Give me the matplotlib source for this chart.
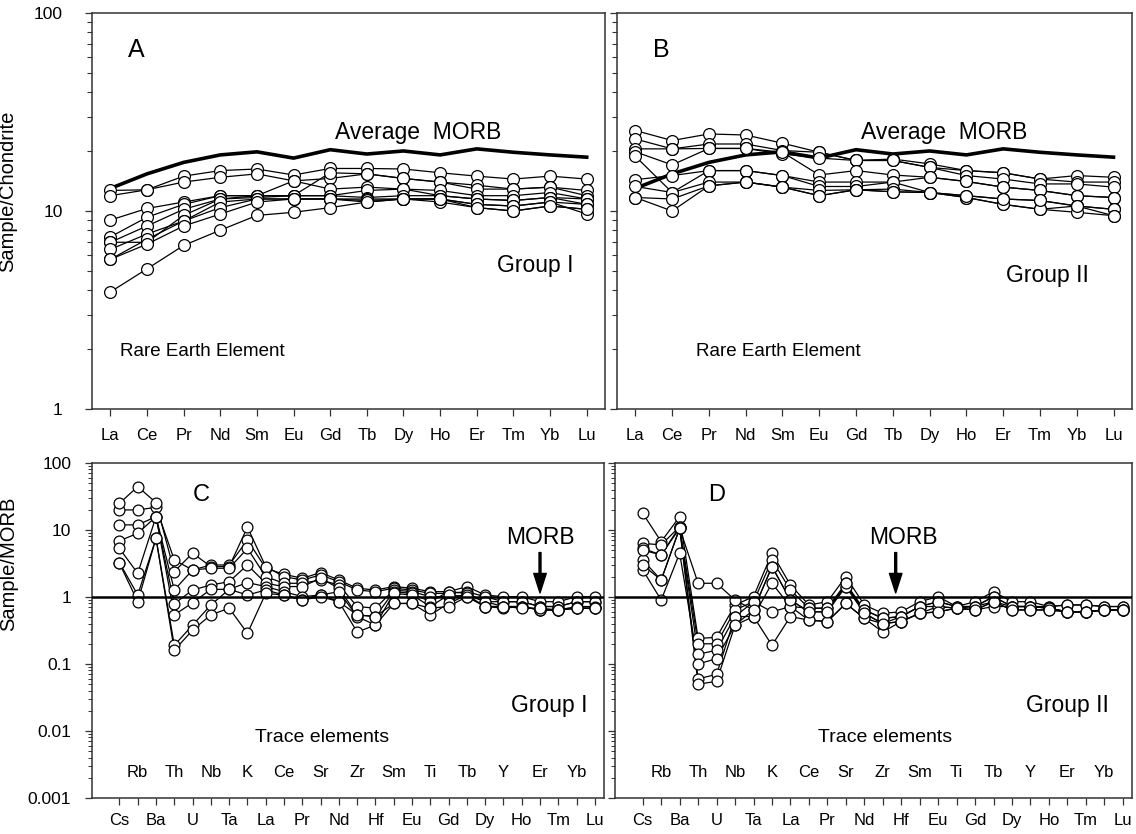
import matplotlib.pyplot as plt
import matplotlib.transforms as mtransforms
from matplotlib.ticker import FixedLocator, LogLocator, NullFormatter

plt.rcParams['font.family'] = ['Liberation Sans', 'DejaVu Sans']

# rare earth elements, chondrite normalised
ree = ['La', 'Ce', 'Pr', 'Nd', 'Sm', 'Eu', 'Gd', 'Tb', 'Dy', 'Ho', 'Er', 'Tm', 'Yb', 'Lu']
morb_ree = [13.0, 15.4, 17.6, 19.2, 19.9, 18.5, 20.4, 19.4, 20.1, 19.2, 20.6, 19.8, 19.2, 18.7]

group1_ree = [
    [12.7, 12.8, 15.0, 16.0, 16.3, 15.2, 16.4, 16.4, 16.3, 15.6, 15.0, 14.5, 15.0, 14.5],
    [11.95, 12.8, 14.0, 14.8, 15.4, 14.2, 14.6, 15.4, 14.6, 14.0, 13.5, 12.9, 13.2, 12.7],
    [9.0, 10.3, 11.1, 11.95, 11.95, 11.95, 15.6, 15.4, 14.6, 14.0, 12.9, 12.9, 13.2, 11.95],
    [7.4, 9.3, 10.8, 11.95, 11.95, 14.2, 12.9, 13.2, 12.9, 12.7, 11.95, 11.95, 12.4, 11.5],
    [6.95, 8.4, 10.2, 11.5, 11.7, 11.95, 11.95, 12.7, 12.9, 11.95, 11.5, 11.3, 11.7, 11.5],
    [6.95, 6.95, 9.5, 11.5, 11.95, 11.95, 11.95, 11.7, 11.95, 11.95, 11.5, 11.3, 11.7, 10.8],
    [6.4, 7.65, 8.9, 11.1, 11.5, 11.5, 11.5, 11.5, 11.5, 11.5, 10.8, 10.6, 11.1, 10.8],
    [5.7, 7.2, 8.9, 10.4, 11.5, 11.5, 11.5, 11.1, 11.5, 11.1, 10.4, 10.0, 10.6, 10.2],
    [5.7, 6.8, 8.4, 9.65, 11.1, 11.5, 11.5, 11.3, 11.5, 11.5, 10.8, 10.6, 11.1, 9.65],
    [3.9, 5.1, 6.7, 8.0, 9.5, 9.85, 10.4, 11.1, 11.5, 11.5, 10.4, 10.0, 10.6, 10.2],
]

group2_ree = [
    [25.5, 22.7, 24.5, 24.2, 22.0, 19.8, 18.0, 18.3, 17.3, 16.0, 15.6, 14.5, 15.1, 14.8],
    [23.1, 20.6, 21.8, 21.8, 20.2, 19.8, 18.0, 18.0, 16.6, 16.0, 15.6, 14.5, 14.0, 14.0],
    [20.6, 20.6, 20.7, 20.7, 19.4, 18.5, 18.0, 18.0, 16.6, 15.1, 14.5, 13.7, 13.7, 13.2],
    [19.9, 17.1, 20.7, 20.7, 19.8, 15.2, 16.0, 15.2, 14.8, 14.1, 13.2, 12.7, 11.95, 11.7],
    [18.9, 12.4, 16.0, 16.0, 15.1, 14.0, 14.0, 14.0, 14.8, 14.1, 13.2, 12.7, 11.95, 11.7],
    [14.4, 15.1, 16.0, 16.0, 15.1, 13.3, 13.3, 14.0, 12.4, 11.95, 11.5, 11.3, 10.6, 10.2],
    [13.3, 12.4, 14.0, 14.0, 13.2, 12.7, 12.8, 12.9, 12.4, 11.7, 10.8, 10.2, 10.6, 10.2],
    [11.7, 11.5, 13.4, 14.0, 13.2, 11.95, 12.8, 12.5, 12.4, 11.7, 10.8, 10.2, 9.85, 9.47],
    [11.7, 10.0, 13.4, 14.0, 13.2, 11.95, 12.8, 12.5, 12.4, 11.95, 11.5, 11.3, 10.6, 9.47],
]

# trace elements, MORB normalised
trace = ['Cs', 'Rb', 'Ba', 'Th', 'U', 'Nb', 'Ta', 'K', 'La', 'Ce', 'Pr', 'Sr', 'Nd', 'Zr',
         'Hf', 'Sm', 'Eu', 'Ti', 'Gd', 'Tb', 'Dy', 'Y', 'Ho', 'Er', 'Tm', 'Yb', 'Lu']

group1_trace = [
    [19.9, 19.9, 21.8, 3.56, 2.53, 3.0, 3.0, 7.1, 2.68, 2.18, 1.9, 2.31, 1.79, 1.35, 1.27,
     1.43, 1.35, 1.2, 1.2, 1.43, 1.07, 1.01, 1.01, 0.85, 0.85, 1.01, 1.01],
    [25.0, 44.3, 25.6, 2.39, 4.5, 2.84, 2.84, 11.0, 2.84, 2.01, 1.79, 2.13, 1.69, 1.27, 1.2,
     1.35, 1.27, 1.13, 1.13, 1.2, 1.01, 0.85, 0.85, 0.72, 0.72, 0.85, 0.85],
    [11.9, 11.9, 15.8, 1.27, 2.53, 2.68, 2.68, 5.3, 2.01, 1.6, 1.6, 1.79, 1.51, 0.72, 0.68,
     1.27, 1.2, 1.01, 1.01, 1.07, 0.85, 0.85, 0.85, 0.72, 0.72, 0.85, 0.85],
    [6.9, 8.9, 15.8, 0.79, 1.27, 1.51, 1.69, 3.0, 1.6, 1.43, 1.43, 1.9, 1.35, 0.54, 0.51,
     1.2, 1.13, 0.85, 1.2, 1.13, 0.85, 0.72, 0.72, 0.64, 0.64, 0.72, 0.72],
    [5.3, 2.25, 15.8, 0.54, 0.82, 1.3, 1.3, 1.64, 1.43, 1.2, 1.01, 1.07, 1.2, 0.51, 0.38,
     1.13, 1.07, 0.72, 1.07, 1.01, 0.72, 0.72, 0.72, 0.64, 0.64, 0.68, 0.68],
    [3.25, 1.07, 7.5, 0.19, 0.38, 0.76, 1.3, 1.07, 1.27, 1.07, 0.9, 1.07, 0.85, 0.3, 0.38,
     0.8, 0.8, 0.54, 0.8, 1.07, 0.72, 0.68, 0.72, 0.64, 0.64, 0.68, 0.68],
    [3.18, 0.85, 7.5, 0.16, 0.32, 0.54, 0.68, 0.287, 1.13, 1.07, 0.9, 1.01, 0.85, 0.54, 0.51,
     0.8, 0.8, 0.68, 0.72, 1.01, 0.72, 0.72, 0.68, 0.68, 0.64, 0.68, 0.68],
]

group2_trace = [
    [17.7, 6.7, 15.8, 0.24, 0.25, 0.76, 1.01, 4.5, 1.51, 0.76, 0.85, 2.01, 0.76, 0.57, 0.6,
     0.85, 1.01, 0.72, 0.85, 1.2, 0.85, 0.85, 0.72, 0.76, 0.76, 0.72, 0.72],
    [6.3, 6.0, 11.2, 0.2, 0.2, 0.64, 0.85, 3.56, 1.27, 0.68, 0.68, 1.6, 0.64, 0.48, 0.51,
     0.72, 0.85, 0.72, 0.72, 1.01, 0.72, 0.72, 0.68, 0.6, 0.6, 0.64, 0.64],
    [5.3, 4.24, 10.6, 1.6, 1.6, 0.9, 0.64, 2.84, 0.9, 0.6, 0.6, 1.43, 0.57, 0.4, 0.43,
     0.57, 0.72, 0.68, 0.64, 0.85, 0.64, 0.64, 0.64, 0.6, 0.6, 0.64, 0.64],
    [3.56, 1.79, 10.6, 0.14, 0.16, 0.51, 0.51, 1.6, 0.72, 0.45, 0.43, 0.8, 0.48, 0.3, 0.43,
     0.57, 0.6, 0.68, 0.64, 0.72, 0.72, 0.72, 0.72, 0.76, 0.76, 0.72, 0.72],
    [2.53, 0.9, 4.5, 0.1, 0.12, 0.38, 0.51, 0.19, 0.51, 0.45, 0.43, 0.8, 0.48, 0.4, 0.51,
     0.72, 0.72, 0.68, 0.72, 0.85, 0.72, 0.72, 0.68, 0.6, 0.6, 0.64, 0.64],
    [5.0, 4.24, 11.2, 0.06, 0.07, 0.51, 0.85, 0.6, 0.72, 0.68, 0.68, 1.43, 0.64, 0.48, 0.51,
     0.72, 0.85, 0.72, 0.72, 1.01, 0.72, 0.72, 0.68, 0.6, 0.6, 0.64, 0.64],
    [3.0, 1.79, 10.6, 0.05, 0.055, 0.38, 0.64, 2.84, 0.9, 0.6, 0.6, 1.6, 0.57, 0.4, 0.43,
     0.57, 0.6, 0.68, 0.64, 0.85, 0.64, 0.64, 0.64, 0.6, 0.6, 0.64, 0.64],
]

FRAME = '#333333'


def draw_samples(ax, samples, ms):
    x = list(range(len(samples[0])))
    for s in samples:
        ax.plot(x, s, '-', color='black', lw=0.9, zorder=2)
    for s in samples:
        ax.plot(x, s, 'o', ms=ms, mfc='white', mec='black', mew=0.9, zorder=3)


def style_frame(ax):
    for sp in ax.spines.values():
        sp.set_color(FRAME)
        sp.set_linewidth(1.1)


def ree_panel(ax, samples, letter, group, group_pos, ree_x, show_y):
    draw_samples(ax, samples, 8.5)
    ax.plot(range(len(ree)), morb_ree, '-', color='black', lw=2.6, zorder=2.5)
    ax.set_yscale('log')
    ax.set_ylim(1, 100)
    ax.set_xlim(-0.5, 13.5)
    ax.set_xticks(range(len(ree)))
    ax.set_xticklabels(ree, fontsize=12)
    ax.tick_params(axis='x', direction='out', length=5, width=0.9, pad=9, color=FRAME)
    ax.yaxis.set_major_locator(FixedLocator([1, 10, 100]))
    ax.yaxis.set_minor_locator(LogLocator(base=10, subs=range(2, 10)))
    ax.yaxis.set_minor_formatter(NullFormatter())
    ax.tick_params(axis='y', which='major', direction='out', length=5, width=0.9, pad=16, color=FRAME)
    ax.tick_params(axis='y', which='minor', direction='out', length=3.5, width=0.8, color=FRAME)
    if show_y:
        ax.set_yticklabels(['1', '10', '100'], fontsize=12.5)
    else:
        ax.set_yticklabels([])
    style_frame(ax)
    ax.text(0.7, 65, letter, fontsize=18, ha='center', va='center')
    ax.text(8.4, 24.8, 'Average  MORB', fontsize=16.5, ha='center', va='center')
    ax.text(group_pos[0], group_pos[1], group, fontsize=16.5, ha='center', va='center')
    ax.text(ree_x, 1.95, 'Rare Earth Element', fontsize=13.5, ha='center', va='center')


def trace_panel(ax, samples, letter, group, group_x, label_x, morb_x, arrow_x, show_y):
    draw_samples(ax, samples, 7.8)
    ax.axhline(1, color='black', lw=1.8, zorder=4)
    ax.set_yscale('log')
    ax.set_ylim(0.001, 100)
    ax.set_xlim(-1.5, 26.5)
    ax.set_xticks(range(len(trace)))
    ax.set_xticklabels([t if i % 2 == 0 else '' for i, t in enumerate(trace)], fontsize=12)
    ax.tick_params(axis='x', direction='out', length=5, width=0.9, pad=6, color=FRAME)
    blend = mtransforms.blended_transform_factory(ax.transData, ax.transAxes)
    for i, t in enumerate(trace):
        if i % 2 == 1:
            ax.text(i, 0.075, t, fontsize=12, ha='center', va='center', transform=blend)
    ax.yaxis.set_major_locator(FixedLocator([0.001, 0.01, 0.1, 1, 10, 100]))
    ax.yaxis.set_minor_locator(LogLocator(base=10, subs=range(2, 10)))
    ax.yaxis.set_minor_formatter(NullFormatter())
    ax.tick_params(axis='y', which='major', direction='out', length=5, width=0.9, pad=10, color=FRAME)
    ax.tick_params(axis='y', which='minor', direction='out', length=3, width=0.7, color=FRAME)
    if show_y:
        ax.set_yticklabels(['0.001', '0.01', '0.1', '1', '10', '100'], fontsize=12.5)
    else:
        ax.set_yticklabels([])
    style_frame(ax)
    ax.text(group_x - 19, 33, letter, fontsize=17, ha='center', va='center')
    ax.text(morb_x, 7.6, 'MORB', fontsize=16.5, ha='center', va='center')
    ax.annotate('', xy=(arrow_x, 1.15), xytext=(arrow_x, 4.6),
                arrowprops=dict(facecolor='black', edgecolor='black', width=1.4,
                                headwidth=9, headlength=14, shrink=0))
    ax.text(group_x, 0.0244, group, fontsize=16.5, ha='center', va='center')
    ax.text(label_x, 0.0079, 'Trace elements', fontsize=14, ha='center', va='center')


def main():
    fig = plt.figure(figsize=(11.36, 8.34), dpi=100)
    ax_a = fig.add_axes([0.081, 0.5096, 0.4516, 0.4748])
    ax_b = fig.add_axes([0.5431, 0.5096, 0.4533, 0.4748])
    ax_c = fig.add_axes([0.081, 0.0432, 0.4507, 0.4017])
    ax_d = fig.add_axes([0.5414, 0.0432, 0.4551, 0.4017])

    ree_panel(ax_a, group1_ree, 'A', 'Group I', (11.6, 5.3), 2.5, True)
    ree_panel(ax_b, group2_ree, 'B', 'Group II', (11.2, 4.7), 3.9, False)
    trace_panel(ax_c, group1_trace, 'C', 'Group I', 23.5, 11.1, 23.0, 23.0, True)
    trace_panel(ax_d, group2_trace, 'D', 'Group II', 23.0, 13.1, 14.1, 13.7, False)

    ax_a.set_ylabel('Sample/Chondrite', fontsize=14.5)
    ax_a.yaxis.set_label_coords(-0.145, 0.55)
    ax_c.set_ylabel('Sample/MORB', fontsize=14.5)
    ax_c.yaxis.set_label_coords(-0.145, 0.7)

    fig.savefig('out.png', dpi=100)


if __name__ == '__main__':
    main()
